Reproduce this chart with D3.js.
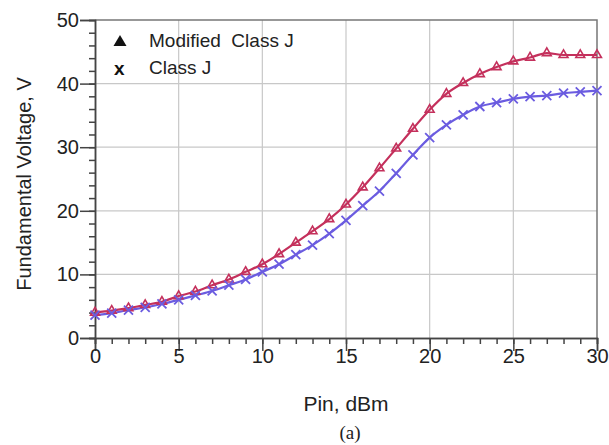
<!DOCTYPE html>
<html><head><meta charset="utf-8">
<script src="https://cdn.jsdelivr.net/npm/d3@7"></script>
<style>html,body{margin:0;padding:0;background:#fff}</style>
</head><body>
<svg id="c" width="609" height="445"></svg>
<script>
const pin = d3.range(0, 31, 1);
const modifiedClassJ = [4.0, 4.3, 4.7, 5.2, 5.7, 6.6, 7.3, 8.3, 9.2, 10.4, 11.6, 13.2, 15.0, 16.8, 18.7, 21.0, 23.7, 26.7, 29.8, 32.9, 35.9, 38.4, 40.1, 41.5, 42.6, 43.5, 44.1, 44.8, 44.5, 44.5, 44.5];
const classJ = [3.6, 3.9, 4.4, 4.8, 5.35, 6.0, 6.7, 7.4, 8.3, 9.2, 10.4, 11.6, 13.1, 14.6, 16.4, 18.5, 20.8, 23.1, 25.9, 28.8, 31.5, 33.5, 35.1, 36.4, 37.0, 37.6, 37.95, 38.1, 38.5, 38.7, 38.9];
const xTicks = [0, 5, 10, 15, 20, 25, 30];
const yTicks = [0, 10, 20, 30, 40, 50];
const legendLabels = ["Modified  Class J", "Class J"];

const svg = d3.select("#c");
const L = 95, R = 597, T = 20, B = 338;
const x = d3.scaleLinear().domain([0, 30]).range([L, R]);
const y = d3.scaleLinear().domain([0, 50]).range([B, T]);
const font = "Liberation Sans, Arial, sans-serif";
const red = "#c4305c", blue = "#6b5ce0";

// grid
const g = svg.append("g");
g.selectAll("line.gx").data(xTicks.slice(1, -1)).enter().append("line")
  .attr("x1", d => x(d)).attr("x2", d => x(d)).attr("y1", T).attr("y2", B)
  .attr("stroke", "#c8c8c8").attr("stroke-width", 1.2);
g.selectAll("line.gy").data(yTicks.slice(1, -1)).enter().append("line")
  .attr("x1", L).attr("x2", R).attr("y1", d => y(d)).attr("y2", d => y(d))
  .attr("stroke", "#c8c8c8").attr("stroke-width", 1.2);
// frame top/right
svg.append("path").attr("d", `M${L},${T}H${R}V${B}`).attr("fill", "none")
  .attr("stroke", "#777").attr("stroke-width", 1.5);

// axes
const xMinor = d3.axisBottom(x).tickValues(d3.range(0, 31, 1)).tickSize(6).tickFormat("");
const xMajor = d3.axisBottom(x).tickValues(xTicks).tickSize(13).tickPadding(0).tickFormat(d3.format("d"));
const yMinor = d3.axisLeft(y).tickValues(d3.range(0, 51, 2)).tickSize(6).tickFormat("");
const yMajor = d3.axisLeft(y).tickValues(yTicks).tickSize(15).tickPadding(1).tickFormat(d3.format("d"));
function styleAxis(sel) {
  sel.selectAll("path,line").attr("stroke", "#444").attr("stroke-width", 1.5);
  sel.selectAll("text").attr("font-family", font).attr("font-size", 20).attr("fill", "#222");
}
svg.append("g").attr("transform", `translate(0,${B})`).call(xMinor).call(styleAxis);
svg.append("g").attr("transform", `translate(0,${B})`).call(xMajor).call(styleAxis)
  .selectAll("text").attr("y", 11);
svg.append("g").attr("transform", `translate(${L},0)`).call(yMinor).call(styleAxis);
svg.append("g").attr("transform", `translate(${L},0)`).call(yMajor).call(styleAxis);
svg.selectAll(".domain").attr("stroke", "#444");

// lines
const line = d3.line().x((d, i) => x(pin[i])).y(d => y(d)).curve(d3.curveMonotoneX);
svg.append("path").datum(classJ).attr("d", line).attr("fill", "none").attr("stroke", blue).attr("stroke-width", 2.2);
svg.append("path").datum(modifiedClassJ).attr("d", line).attr("fill", "none").attr("stroke", red).attr("stroke-width", 2.2);

// markers
const tri = d3.symbol().type(d3.symbolTriangle).size(34);
svg.append("g").selectAll("path").data(modifiedClassJ).enter().append("path")
  .attr("d", tri).attr("transform", (d, i) => `translate(${x(pin[i])},${y(d)})`)
  .attr("fill", "none").attr("stroke", red).attr("stroke-width", 1.6);
const cs = 4.5;
svg.append("g").selectAll("path").data(classJ).enter().append("path")
  .attr("d", `M${-cs},${-cs}L${cs},${cs}M${-cs},${cs}L${cs},${-cs}`)
  .attr("transform", (d, i) => `translate(${x(pin[i])},${y(d)})`)
  .attr("fill", "none").attr("stroke", blue).attr("stroke-width", 1.8);

// legend
svg.append("path").attr("d", "M-6.5,4L6.5,4L0,-7Z")
  .attr("transform", "translate(120,42)").attr("fill", "#111");
svg.append("text").attr("x", 114).attr("y", 75).text("x")
  .attr("font-family", font).attr("font-size", 19).attr("font-weight", "bold").attr("fill", "#111");
svg.selectAll("text.leg").data(legendLabels).enter().append("text")
  .attr("x", 149).attr("y", (d, i) => 47 + i * 27).text(d => d).style("white-space", "pre")
  .attr("font-family", font).attr("font-size", 19).attr("fill", "#222");

// titles
svg.append("text").attr("transform", "translate(31,184) rotate(-90)").attr("text-anchor", "middle")
  .attr("font-family", font).attr("font-size", 20).attr("fill", "#222").text("Fundamental Voltage, V");
svg.append("text").attr("x", 346).attr("y", 411).attr("text-anchor", "middle")
  .attr("font-family", font).attr("font-size", 21).attr("fill", "#222").text("Pin, dBm");
svg.append("text").attr("x", 350).attr("y", 439).attr("text-anchor", "middle")
  .attr("font-family", "Liberation Serif, Times New Roman, serif").attr("font-size", 19).attr("fill", "#222").text("(a)");
</script>
</body></html>
